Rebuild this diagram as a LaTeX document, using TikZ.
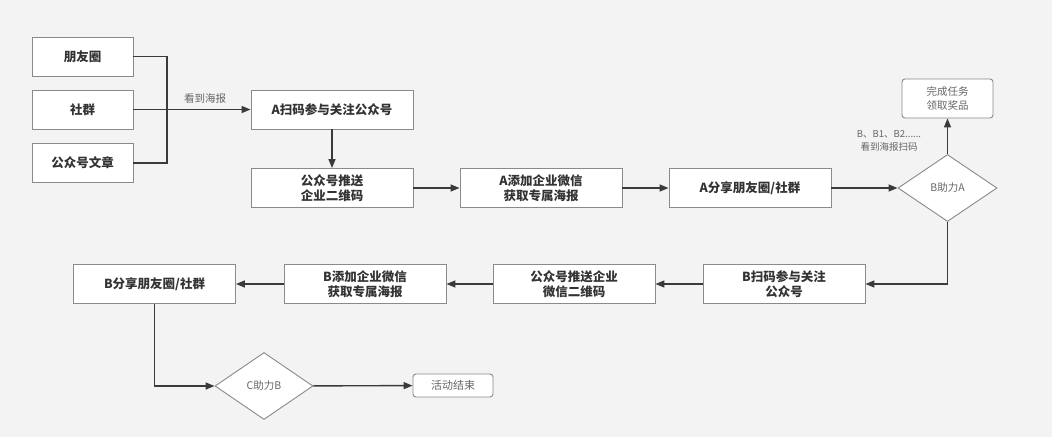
\documentclass[tikz,border=0pt]{standalone}
\usepackage{fontspec}
\setmainfont{Noto Sans CJK SC}
\usetikzlibrary{arrows.meta,shapes.geometric}
\definecolor{bg}{HTML}{F3F3F3}
\definecolor{boxgray}{HTML}{8A8A8A}
\definecolor{linegray}{HTML}{3A3A3A}
\definecolor{txt}{HTML}{333333}
\definecolor{lighttxt}{HTML}{666666}
\begin{document}
\begin{tikzpicture}[x=1pt,y=-1pt,
  stepbox/.style={draw=boxgray, fill=white, line width=0.9pt, minimum width=162pt, minimum height=39pt, inner sep=0pt, align=center, font=\fontsize{12.5}{15.5}\selectfont\bfseries, text=txt},
  srcbox/.style={stepbox, minimum width=101pt},
  endbox/.style={draw=boxgray, fill=white, line width=0.9pt, rounded corners=3pt, inner sep=0pt, align=center, font=\fontsize{10.5}{14}\selectfont, text=lighttxt},
  decision/.style={shape=diamond, draw=boxgray, fill=white, line width=0.9pt, inner sep=0pt, minimum width=99pt, minimum height=67pt, font=\fontsize{10.5}{13}\selectfont, text=lighttxt},
  lbl/.style={font=\fontsize{10.5}{13}\selectfont, text=lighttxt, align=center, inner sep=0pt},
  conn/.style={draw=linegray, line width=1.4pt},
  arr/.style={conn, -{Triangle[length=9pt,width=7pt]}}
]
\useasboundingbox[fill=bg] (0,0) rectangle (1052,437);

\node[srcbox] (s1) at (82.5,56.5) {朋友圈};
\node[srcbox] (s2) at (82.5,109.5) {社群};
\node[srcbox] (s3) at (82.5,163) {公众号文章};
\coordinate (j) at (167,109.5);

\node[stepbox] (a1) at (332,109.5) {A扫码参与关注公众号};
\node[stepbox] (a2) at (332,188) {公众号推送\\企业二维码};
\node[stepbox] (a3) at (541,188) {A添加企业微信\\获取专属海报};
\node[stepbox] (a4) at (750,188) {A分享朋友圈/社群};
\node[decision] (d1) at (947.5,188) {B助力A};
\node[endbox, minimum width=91pt, minimum height=39pt] (e1) at (947.5,98.5) {完成任务\\领取奖品};
\node[lbl, font=\fontsize{9.5}{13}\selectfont] (l2) at (889,140.5) {B、B1、B2......\\看到海报扫码};

\node[stepbox] (b1) at (784,284) {B扫码参与关注\\公众号};
\node[stepbox] (b2) at (574,284) {公众号推送企业\\微信二维码};
\node[stepbox] (b3) at (365,284) {B添加企业微信\\获取专属海报};
\node[stepbox] (b4) at (154.5,284) {B分享朋友圈/社群};
\node[decision, minimum width=98pt] (d2) at (264,386) {C助力B};
\node[endbox, minimum width=80pt, minimum height=23pt, font=\fontsize{11}{13}\selectfont] (e2) at (453,385.5) {活动结束};

\node[lbl] (l1) at (205,99) {看到海报};

\draw[conn] (s1.east) -| (j) |- (s3.east);
\draw[arr] (s2.east) -- (a1.west);
\draw[arr] (a1) -- (a2);
\draw[arr] (a2) -- (a3);
\draw[arr] (a3) -- (a4);
\draw[arr] (a4) -- (d1);
\draw[arr] (d1) -- (e1);
\draw[arr] (d1.south) |- (b1.east);
\draw[arr] (b1) -- (b2);
\draw[arr] (b2) -- (b3);
\draw[arr] (b3) -- (b4);
\draw[arr] (b4.south) |- (d2.west);
\draw[arr] (d2) -- (e2);
\end{tikzpicture}
\end{document}
